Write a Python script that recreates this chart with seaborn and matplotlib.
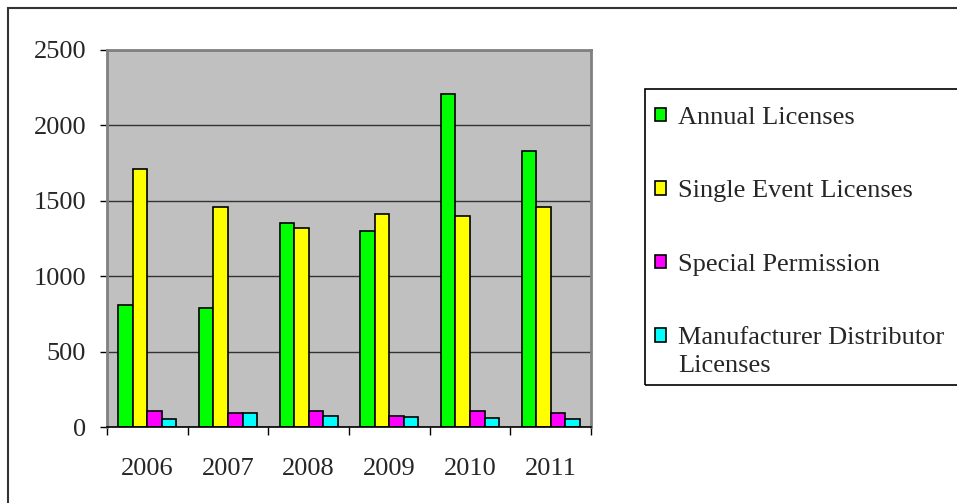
import pandas as pd
import matplotlib
matplotlib.use("Agg")
import matplotlib.pyplot as plt
from matplotlib.patches import Rectangle
from matplotlib.ticker import FixedLocator
import seaborn as sns

# ==========================================
# DATA
# ==========================================
years = ["2006", "2007", "2008", "2009", "2010", "2011"]
annual = [810, 790, 1350, 1300, 2210, 1830]
single_event = [1710, 1460, 1320, 1415, 1400, 1460]
special_perm = [105, 90, 105, 75, 105, 90]
manuf_dist = [50, 90, 75, 65, 60, 50]

series_names = ["Annual Licenses", "Single Event Licenses",
                "Special Permission", "Manufacturer Distributor Licenses"]
series_colors = ["#00FF00", "#FFFF00", "#FF00FF", "#00FFFF"]

rows = []
for name, vals in zip(series_names, [annual, single_event, special_perm, manuf_dist]):
    for yr, v in zip(years, vals):
        rows.append({"year": yr, "series": name, "count": v})
df = pd.DataFrame(rows)

# ==========================================
# PLOT
# ==========================================
sns.set_style("white")
plt.rcParams["font.family"] = ["Liberation Serif", "DejaVu Serif"]
FS = 19

fig = plt.figure(figsize=(9.57, 5.03), dpi=100)
ax = fig.add_axes([107 / 957, 1 - 427 / 503, (591 - 107) / 957, (427 - 50) / 503])
ax.set_facecolor("#C0C0C0")
ax.set_axisbelow(True)

sns.barplot(data=df, x="year", y="count", hue="series", order=years,
            hue_order=series_names, palette=series_colors, width=0.72,
            edgecolor="black", linewidth=1.2, saturation=1, ax=ax)

ax.set_ylim(0, 2500)
ax.set_xlim(-0.5, len(years) - 0.5)
ax.set_yticks([0, 500, 1000, 1500, 2000, 2500])
ax.yaxis.grid(True, color="#333333", linewidth=1)
ax.set_xlabel("")
ax.set_ylabel("")

# ticks: labels at group centres, tick marks on group boundaries
ax.tick_params(axis="x", which="major", length=0, pad=22, labelsize=FS)
ax.xaxis.set_minor_locator(FixedLocator([i - 0.5 for i in range(len(years) + 1)]))
ax.tick_params(axis="x", which="minor", length=6, width=1, direction="out", color="black", bottom=True)
ax.tick_params(axis="y", length=5, width=1, direction="out", color="black", left=True,
               pad=10, labelsize=FS)

for side in ["top", "right", "left"]:
    ax.spines[side].set_color("#808080")
    ax.spines[side].set_linewidth(2)
ax.spines["bottom"].set_color("black")
ax.spines["bottom"].set_linewidth(1.2)

# legend outside on the right; last label wraps under its first line
ax.get_legend().remove()
handles, labels = ax.get_legend_handles_labels()
first_line = [lab.replace(" Licenses", "") if lab.startswith("Manufacturer") else lab for lab in labels]
leg = fig.legend(handles, first_line, loc="upper left", bbox_to_anchor=(655 / 957, 1 - 107 / 503),
                 frameon=False, borderaxespad=0, borderpad=0, fontsize=FS,
                 handlelength=0.42, handleheight=0.42, handletextpad=0.45,
                 labelspacing=1.95)
for h in leg.legend_handles:
    h.set_edgecolor("black")
    h.set_linewidth(1.2)

fig.canvas.draw()
last = leg.get_texts()[-1]
bb = last.get_window_extent().transformed(fig.transFigure.inverted())
fig.text(bb.x0, bb.y0 - 28 / 503, "Licenses", fontsize=FS, ha="left", va="bottom")

# legend box and outer chart border (run off the image edge)
fig.add_artist(Rectangle((645 / 957, 1 - 385 / 503), 1.0, (385 - 89) / 503,
                         transform=fig.transFigure, fill=False, edgecolor="black", linewidth=1.2))
fig.add_artist(Rectangle((8 / 957, -0.5), 2.0, 1.5 - 8 / 503,
                         transform=fig.transFigure, fill=False, edgecolor="#333333", linewidth=1.5))

fig.savefig("out.png", dpi=100)
plt.close(fig)
